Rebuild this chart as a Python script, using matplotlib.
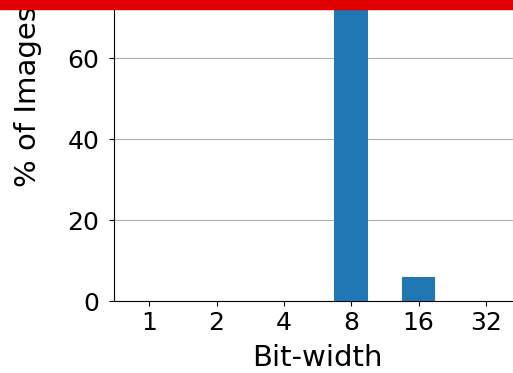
import matplotlib
matplotlib.use("Agg")
from matplotlib import pyplot as plt
from matplotlib.patches import Rectangle

bit_widths = ["1", "2", "4", "8", "16", "32"]
percent_images = [0, 0, 0, 90, 5.9, 0]

fig = plt.figure(figsize=(5.13, 3.73), dpi=100)
ax = fig.add_axes([0.222, 0.193, 0.794, 1.0965])

ax.bar(bit_widths, percent_images, width=0.5, color="#1f77b4", zorder=3)
ax.set_ylim(0, 101)
ax.set_yticks([0, 20, 40, 60])
ax.yaxis.grid(True, color="#b0b0b0", linewidth=0.8, zorder=0)
ax.set_axisbelow(True)
ax.spines["top"].set_visible(False)
ax.spines["right"].set_visible(False)
ax.tick_params(labelsize=18)
ax.tick_params(axis="y", pad=7)
ax.set_xlabel("Bit-width", fontsize=21, labelpad=7)
ax.set_ylabel("% of Images", fontsize=21, labelpad=18)

# red band across the top edge
fig.patches.append(Rectangle((0, 0.975), 1, 0.025, transform=fig.transFigure,
                             color="#e00000", zorder=10))

plt.savefig("out.png", dpi=100)
